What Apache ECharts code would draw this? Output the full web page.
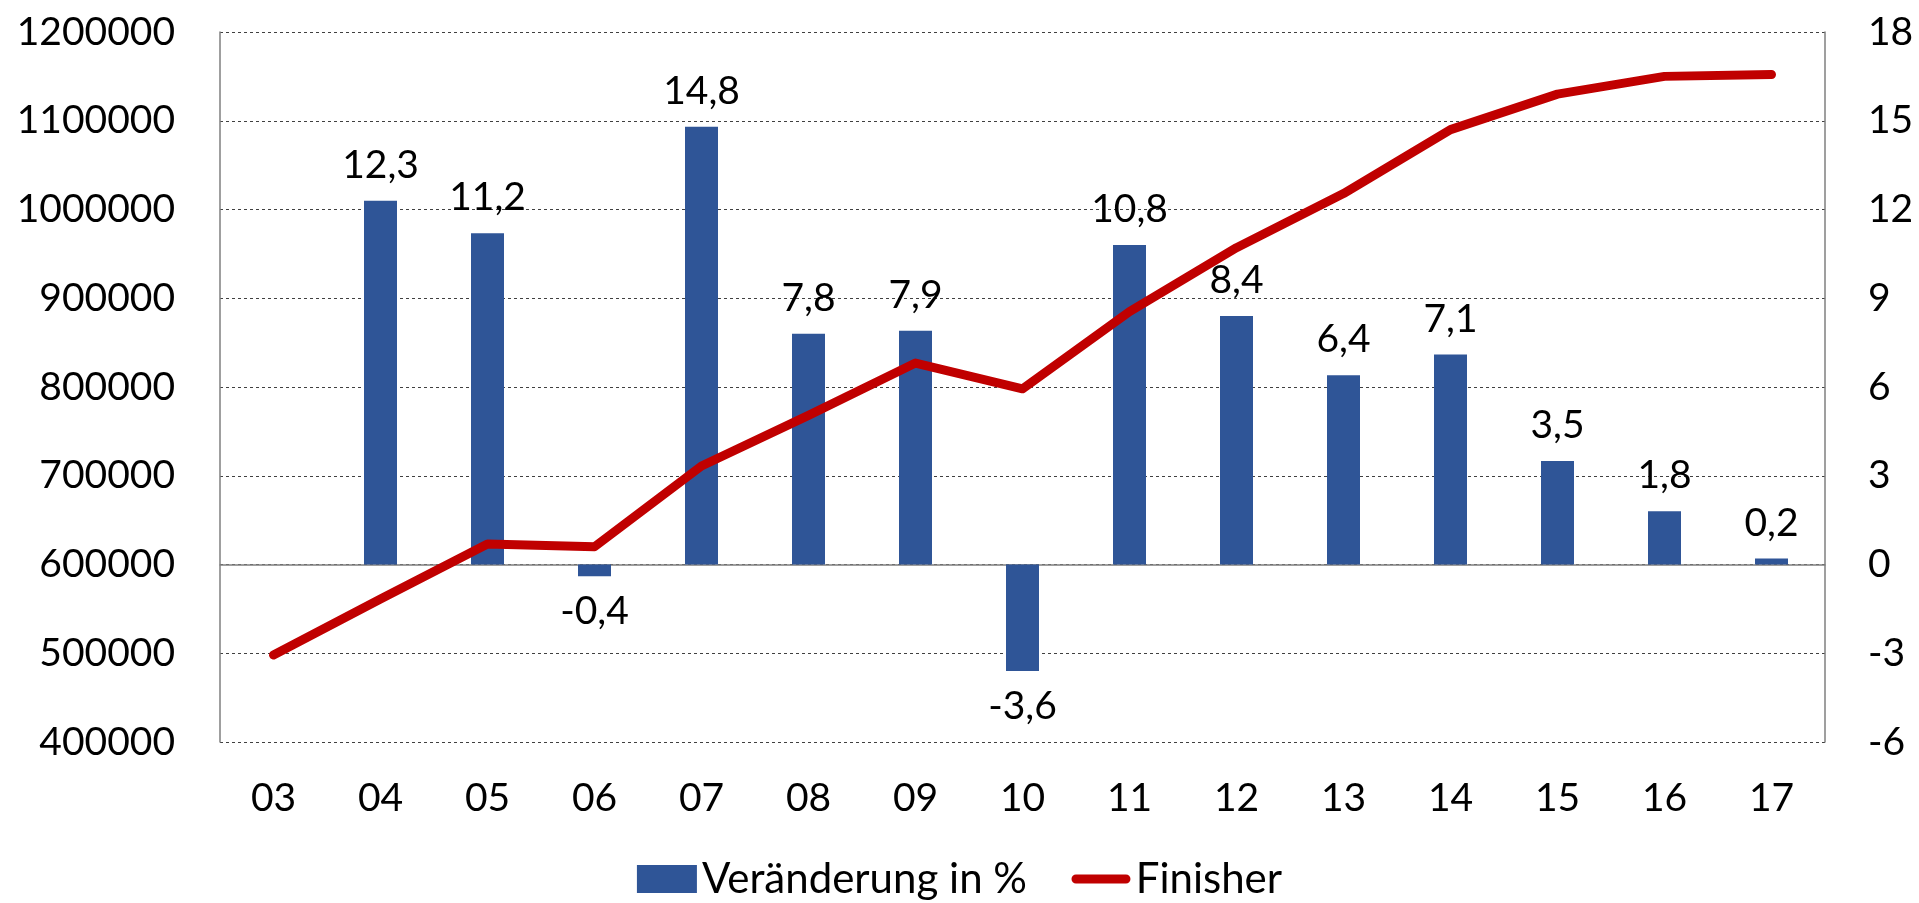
<!DOCTYPE html>
<html>
<head>
<meta charset="utf-8">
<script src="https://cdn.jsdelivr.net/npm/echarts@6/dist/echarts.min.js"></script>
<style>
html,body{margin:0;padding:0;background:#fff;}
#chart{width:1919px;height:903px;}
</style>
</head>
<body>
<div id="chart"></div>
<script>
const categories = ['03','04','05','06','07','08','09','10','11','12','13','14','15','16','17'];
const changePct = [null, 12.3, 11.2, -0.4, 14.8, 7.8, 7.9, -3.6, 10.8, 8.4, 6.4, 7.1, 3.5, 1.8, 0.2];
const finisher = [498000, 561000, 623000, 620000, 711000, 768000, 827000, 798000, 885000, 957000, 1018000, 1090000, 1130000, 1150000, 1152000];
const leftTicks = {min: 400000, max: 1200000, interval: 100000};
const rightTicks = {min: -6, max: 18, interval: 3};

const FONT = 'Lato';
const FS = 39;

const chart = echarts.init(document.getElementById('chart'));

const barData = changePct.map(v => v === null ? null : {
  value: v,
  label: {position: v < 0 ? 'bottom' : 'top'}
});

// thick rounded line icon (with invisible bbox corners to keep its thickness)
const lineIcon = 'path://M0,0h0.01v0.01h-0.01z M0,28h0.01v0.01h-0.01z M5,9.5h50a4.5,4.5 0 0 1 0,9h-50a4.5,4.5 0 0 1 0,-9z';

chart.setOption({
  animation: false,
  grid: {left: 220, right: 94, top: 32, bottom: 161, containLabel: false},
  legend: {
    bottom: -2,
    left: 'center',
    itemWidth: 60,
    itemHeight: 28,
    itemGap: 44,
    textStyle: {fontFamily: FONT, fontSize: 42, color: '#000'},
    data: [
      {name: 'Veränderung in %', icon: 'rect'},
      {name: 'Finisher', icon: lineIcon, itemStyle: {color: '#C00000'}}
    ]
  },
  xAxis: {
    type: 'category',
    data: categories,
    axisTick: {show: false},
    axisLine: {lineStyle: {color: '#7f7f7f', width: 1.5}},
    axisLabel: {fontFamily: FONT, fontSize: FS, color: '#000', margin: 37}
  },
  yAxis: [
    {
      type: 'value',
      position: 'left',
      min: leftTicks.min, max: leftTicks.max, interval: leftTicks.interval,
      axisLine: {show: true, lineStyle: {color: '#7f7f7f', width: 1.5}},
      axisTick: {show: false},
      axisLabel: {fontFamily: FONT, fontSize: FS, color: '#000', margin: 45, formatter: v => String(v)},
      splitLine: {show: true, lineStyle: {color: '#404040', width: 1, type: [3, 3]}}
    },
    {
      type: 'value',
      position: 'right',
      min: rightTicks.min, max: rightTicks.max, interval: rightTicks.interval,
      axisLine: {show: true, lineStyle: {color: '#7f7f7f', width: 1.5}},
      axisTick: {show: false},
      axisLabel: {fontFamily: FONT, fontSize: FS, color: '#000', margin: 43, formatter: v => String(v)},
      splitLine: {show: false}
    }
  ],
  series: [
    {
      name: 'Veränderung in %',
      type: 'bar',
      yAxisIndex: 1,
      data: barData,
      barWidth: 33,
      itemStyle: {color: '#2F5597'},
      label: {
        show: true,
        fontFamily: FONT, fontSize: FS, color: '#000',
        distance: 16,
        formatter: p => String(p.value).replace('.', ',')
      },
      z: 2
    },
    {
      name: 'Finisher',
      type: 'line',
      yAxisIndex: 0,
      data: finisher,
      symbol: 'none',
      showSymbol: false,
      lineStyle: {color: '#C00000', width: 9, cap: 'round', join: 'round'},
      itemStyle: {color: '#C00000'},
      z: 3
    }
  ]
});
</script>
</body>
</html>
